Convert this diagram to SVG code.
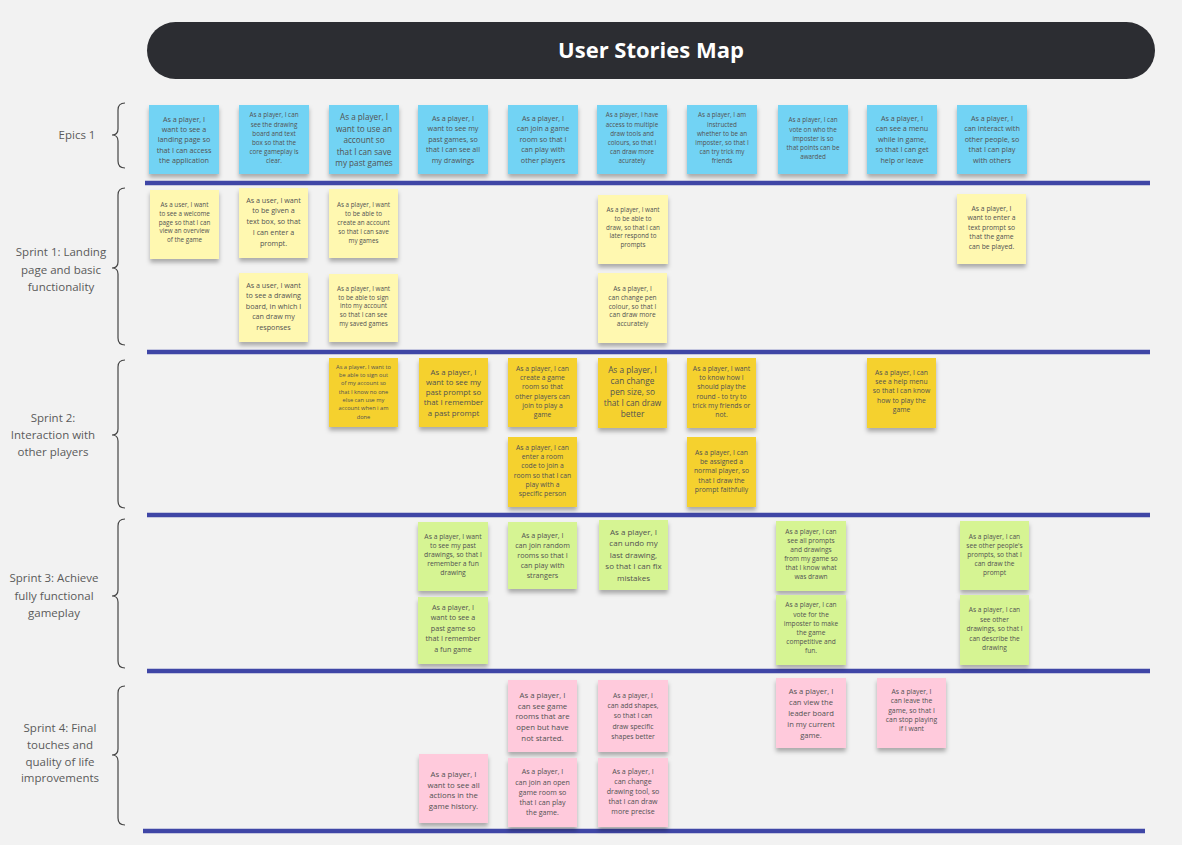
<svg xmlns="http://www.w3.org/2000/svg" width="1182" height="845" viewBox="0 0 1182 845">
<style>
.bg{fill:#f2f2f2}
.note{filter:url(#sh)}
.blue{fill:#72d3f4}
.ly{fill:#fff8b0}
.yl{fill:#f5d12e}
.gr{fill:#d6f493}
.pk{fill:#ffcadc}
.t{font-family:"Open Sans","Liberation Sans",sans-serif;fill:#525252;text-anchor:middle}
.lbl{font-family:"Open Sans","Liberation Sans",sans-serif;fill:#5a5a5a;font-size:11.5px;text-anchor:middle}
.sep{stroke:#3f46a6;stroke-width:4.5}
.brace{fill:none;stroke:#444;stroke-width:1.2}
</style>
<defs>
<filter id="sh" x="-20%" y="-20%" width="140%" height="150%">
<feDropShadow dx="0" dy="3.5" stdDeviation="2" flood-color="#000" flood-opacity="0.3"/>
</filter>
</defs>
<rect class="bg" x="0" y="0" width="1182" height="845"/>

<g id="title">
<rect x="147" y="22" width="1008" height="57" rx="28.5" fill="#2c2d32"/>
<text x="651" y="58" font-family="'Open Sans','Liberation Sans',sans-serif" font-weight="bold" font-size="22" fill="#fff" text-anchor="middle">User Stories Map</text>
</g>

<g id="connectors">
<line class="sep" x1="145" y1="183" x2="1150" y2="183"/>
<line class="sep" x1="147" y1="352" x2="1150" y2="352"/>
<line class="sep" x1="147" y1="515" x2="1150" y2="515"/>
<line class="sep" x1="147" y1="671" x2="1150" y2="671"/>
<line class="sep" x1="143" y1="831" x2="1145" y2="831"/>
<path class="brace" d="M125,103 Q118,103 118,110 L118,129 Q118,135 112,135 Q118,135 118,141 L118,161 Q118,168 125,168"/>
<path class="brace" d="M125,188 Q118,188 118,195 L118,262 Q118,268 112,268 Q118,268 118,274 L118,338 Q118,345 125,345"/>
<path class="brace" d="M125,360 Q118,360 118,367 L118,429 Q118,435 112,435 Q118,435 118,441 L118,501 Q118,508 125,508"/>
<path class="brace" d="M125,519 Q118,519 118,526 L118,590 Q118,596 112,596 Q118,596 118,602 L118,661 Q118,668 125,668"/>
<path class="brace" d="M125,686 Q118,686 118,693 L118,749 Q118,755 112,755 Q118,755 118,761 L118,818 Q118,825 125,825"/>
</g>

<g id="labels">
<text class="lbl" x="77" y="139">Epics 1</text>
<text class="lbl" x="61" y="256">Sprint 1: Landing<tspan x="61" dy="17.5">page and basic</tspan><tspan x="61" dy="17.5">functionality</tspan></text>
<text class="lbl" x="53" y="422">Sprint 2:<tspan x="53" dy="17">Interaction with</tspan><tspan x="53" dy="17">other players</tspan></text>
<text class="lbl" x="54" y="582">Sprint 3: Achieve<tspan x="54" dy="17.5">fully functional</tspan><tspan x="54" dy="17.5">gameplay</tspan></text>
<text class="lbl" x="60" y="732">Sprint 4: Final<tspan x="60" dy="16.8">touches and</tspan><tspan x="60" dy="16.8">quality of life</tspan><tspan x="60" dy="16.8">improvements</tspan></text>
</g>

<!-- Epics -->
<g id="e1" transform="translate(149,105)"><rect class="note blue" width="70" height="69"/><text class="t" font-size="7.2" x="35" y="16.6">As a player, I<tspan x="35" dy="10.3">want to see a</tspan><tspan x="35" dy="10.3">landing page so</tspan><tspan x="35" dy="10.3">that I can access</tspan><tspan x="35" dy="10.3">the application</tspan></text></g>
<g id="e2" transform="translate(239,105)"><rect class="note blue" width="70" height="69"/><text class="t" font-size="6.3" x="35" y="12.3">As a player, I can<tspan x="35" dy="9.2">see the drawing</tspan><tspan x="35" dy="9.2">board and text</tspan><tspan x="35" dy="9.2">box so that the</tspan><tspan x="35" dy="9.2">core gameplay is</tspan><tspan x="35" dy="9.2">clear.</tspan></text></g>
<g id="e3" transform="translate(329,105)"><rect class="note blue" width="70" height="69"/><text class="t" font-size="8.2" x="35" y="15.3">As a player, I<tspan x="35" dy="11.5">want to use an</tspan><tspan x="35" dy="11.5">account so</tspan><tspan x="35" dy="11.5">that I can save</tspan><tspan x="35" dy="11.5">my past games</tspan></text></g>
<g id="e4" transform="translate(418,105)"><rect class="note blue" width="70" height="69"/><text class="t" font-size="7.2" x="35" y="16">As a player, I<tspan x="35" dy="10.4">want to see my</tspan><tspan x="35" dy="10.4">past games, so</tspan><tspan x="35" dy="10.4">that I can see all</tspan><tspan x="35" dy="10.4">my drawings</tspan></text></g>
<g id="e5" transform="translate(508,105)"><rect class="note blue" width="70" height="69"/><text class="t" font-size="7.2" x="35" y="16">As a player, I<tspan x="35" dy="10.4">can join a game</tspan><tspan x="35" dy="10.4">room so that I</tspan><tspan x="35" dy="10.4">can play with</tspan><tspan x="35" dy="10.4">other players</tspan></text></g>
<g id="e6" transform="translate(597,105)"><rect class="note blue" width="70" height="69"/><text class="t" font-size="6.3" x="35" y="12.3">As a player, I have<tspan x="35" dy="9.2">access to multiple</tspan><tspan x="35" dy="9.2">draw tools and</tspan><tspan x="35" dy="9.2">colours, so that I</tspan><tspan x="35" dy="9.2">can draw more</tspan><tspan x="35" dy="9.2">acurately</tspan></text></g>
<g id="e7" transform="translate(687,105)"><rect class="note blue" width="70" height="69"/><text class="t" font-size="6.3" x="35" y="12.3">As a player, I am<tspan x="35" dy="9.2">instructed</tspan><tspan x="35" dy="9.2">whether to be an</tspan><tspan x="35" dy="9.2">imposter, so that I</tspan><tspan x="35" dy="9.2">can try trick my</tspan><tspan x="35" dy="9.2">friends</tspan></text></g>
<g id="e8" transform="translate(778,105)"><rect class="note blue" width="70" height="69"/><text class="t" font-size="6.3" x="35" y="17.3">As a player, I can<tspan x="35" dy="9.2">vote on  who the</tspan><tspan x="35" dy="9.2">imposter is so</tspan><tspan x="35" dy="9.2">that points can be</tspan><tspan x="35" dy="9.2">awarded</tspan></text></g>
<g id="e9" transform="translate(867,105)"><rect class="note blue" width="70" height="69"/><text class="t" font-size="7.2" x="35" y="16">As a player, I<tspan x="35" dy="10.4">can see a menu</tspan><tspan x="35" dy="10.4">while in game,</tspan><tspan x="35" dy="10.4">so that I can get</tspan><tspan x="35" dy="10.4">help or leave</tspan></text></g>
<g id="e10" transform="translate(957,105)"><rect class="note blue" width="70" height="69"/><text class="t" font-size="7.2" x="35" y="16">As a player, I<tspan x="35" dy="10.4">can interact with</tspan><tspan x="35" dy="10.4">other people, so</tspan><tspan x="35" dy="10.4">that I can play</tspan><tspan x="35" dy="10.4">with others</tspan></text></g>

<!-- Sprint 1 -->
<g id="s1a" transform="translate(150,190)"><rect class="note ly" width="69" height="69"/><text class="t" font-size="6.3" x="34.5" y="17.3">As a user, I want<tspan x="34.5" dy="8.7">to see a welcome</tspan><tspan x="34.5" dy="8.7">page so that I can</tspan><tspan x="34.5" dy="8.7">view an overview</tspan><tspan x="34.5" dy="8.7">of the game</tspan></text></g>
<g id="s1b" transform="translate(239,188)"><rect class="note ly" width="69" height="70"/><text class="t" font-size="7.2" x="34.5" y="14.6">As a user, I want<tspan x="34.5" dy="10.8">to be given a</tspan><tspan x="34.5" dy="10.8">text box, so that</tspan><tspan x="34.5" dy="10.8">I can enter a</tspan><tspan x="34.5" dy="10.8">prompt.</tspan></text></g>
<g id="s1c" transform="translate(329,189)"><rect class="note ly" width="69" height="69"/><text class="t" font-size="6.3" x="34.5" y="18.3">As a player, I want<tspan x="34.5" dy="8.9">to be able to</tspan><tspan x="34.5" dy="8.9">create an account</tspan><tspan x="34.5" dy="8.9">so that I can save</tspan><tspan x="34.5" dy="8.9">my games</tspan></text></g>
<g id="s1d" transform="translate(239,273)"><rect class="note ly" width="69" height="69"/><text class="t" font-size="7.2" x="34.5" y="14.6">As a user, I want<tspan x="34.5" dy="10.5">to see a drawing</tspan><tspan x="34.5" dy="10.5">board, in which I</tspan><tspan x="34.5" dy="10.5">can draw my</tspan><tspan x="34.5" dy="10.5">responses</tspan></text></g>
<g id="s1e" transform="translate(329,274)"><rect class="note ly" width="69" height="68"/><text class="t" font-size="6.3" x="34.5" y="16.6">As a player, I want<tspan x="34.5" dy="8.9">to be able to sign</tspan><tspan x="34.5" dy="8.9">into my account</tspan><tspan x="34.5" dy="8.9">so that I can see</tspan><tspan x="34.5" dy="8.9">my saved games</tspan></text></g>
<g id="s1f" transform="translate(598,195)"><rect class="note ly" width="70" height="69"/><text class="t" font-size="6.3" x="35" y="17.3">As a player, I want<tspan x="35" dy="8.7">to be able to</tspan><tspan x="35" dy="8.7">draw, so that I can</tspan><tspan x="35" dy="8.7">later respond to</tspan><tspan x="35" dy="8.7">prompts</tspan></text></g>
<g id="s1g" transform="translate(598,273)"><rect class="note ly" width="69" height="70"/><text class="t" font-size="6.6" x="34.5" y="17.7">As a player, I<tspan x="34.5" dy="8.9">can change pen</tspan><tspan x="34.5" dy="8.9">colour, so that I</tspan><tspan x="34.5" dy="8.9">can draw more</tspan><tspan x="34.5" dy="8.9">accurately</tspan></text></g>
<g id="s1h" transform="translate(957,194)"><rect class="note ly" width="69" height="70"/><text class="t" font-size="6.8" x="34.5" y="16.8">As a player, I<tspan x="34.5" dy="9.5">want to enter a</tspan><tspan x="34.5" dy="9.5">text prompt so</tspan><tspan x="34.5" dy="9.5">that the game</tspan><tspan x="34.5" dy="9.5">can be played.</tspan></text></g>

<!-- Sprint 2 -->
<g id="s2a" transform="translate(329,358)"><rect class="note yl" width="69" height="69"/><text class="t" font-size="5.7" x="34.5" y="10.7">As a player, I want to<tspan x="34.5" dy="8.3">be able to sign out</tspan><tspan x="34.5" dy="8.3">of my account so</tspan><tspan x="34.5" dy="8.3">that I know no one</tspan><tspan x="34.5" dy="8.3">else can use my</tspan><tspan x="34.5" dy="8.3">account when i am</tspan><tspan x="34.5" dy="8.3">done</tspan></text></g>
<g id="s2b" transform="translate(419,358)"><rect class="note yl" width="69" height="69"/><text class="t" font-size="7.8" x="34.5" y="16.5">As a player, I<tspan x="34.5" dy="10.3">want to see my</tspan><tspan x="34.5" dy="10.3">past prompt so</tspan><tspan x="34.5" dy="10.3">that I remember</tspan><tspan x="34.5" dy="10.3">a past prompt</tspan></text></g>
<g id="s2c" transform="translate(508,358)"><rect class="note yl" width="69" height="69"/><text class="t" font-size="6.8" x="34.5" y="12.8">As a player, I can<tspan x="34.5" dy="9.3">create a game</tspan><tspan x="34.5" dy="9.3">room so that</tspan><tspan x="34.5" dy="9.3">other players can</tspan><tspan x="34.5" dy="9.3">join to play a</tspan><tspan x="34.5" dy="9.3">game</tspan></text></g>
<g id="s2d" transform="translate(508,437)"><rect class="note yl" width="69" height="70"/><text class="t" font-size="6.8" x="34.5" y="13.2">As a player, I can<tspan x="34.5" dy="9.1">enter a room</tspan><tspan x="34.5" dy="9.1">code to join a</tspan><tspan x="34.5" dy="9.1">room so that I can</tspan><tspan x="34.5" dy="9.1">play with a</tspan><tspan x="34.5" dy="9.1">specific person</tspan></text></g>
<g id="s2e" transform="translate(598,358)"><rect class="note yl" width="69" height="70"/><text class="t" font-size="8.3" x="34.5" y="15">As a player, I<tspan x="34.5" dy="11">can change</tspan><tspan x="34.5" dy="11">pen size, so</tspan><tspan x="34.5" dy="11">that I can draw</tspan><tspan x="34.5" dy="11">better</tspan></text></g>
<g id="s2f" transform="translate(687,358)"><rect class="note yl" width="69" height="70"/><text class="t" font-size="6.8" x="34.5" y="12.8">As a player, I want<tspan x="34.5" dy="9.3">to know how I</tspan><tspan x="34.5" dy="9.3">should play the</tspan><tspan x="34.5" dy="9.3">round - to try to</tspan><tspan x="34.5" dy="9.3">trick my friends or</tspan><tspan x="34.5" dy="9.3">not.</tspan></text></g>
<g id="s2g" transform="translate(687,437)"><rect class="note yl" width="69" height="70"/><text class="t" font-size="6.8" x="34.5" y="18.2">As a player, I can<tspan x="34.5" dy="9.1">be assigned a</tspan><tspan x="34.5" dy="9.1">normal player, so</tspan><tspan x="34.5" dy="9.1">that I draw the</tspan><tspan x="34.5" dy="9.1">prompt faithfully</tspan></text></g>
<g id="s2h" transform="translate(867,358)"><rect class="note yl" width="69" height="70"/><text class="t" font-size="6.8" x="34.5" y="16.8">As a player, I can<tspan x="34.5" dy="9.3">see a help menu</tspan><tspan x="34.5" dy="9.3">so that I can know</tspan><tspan x="34.5" dy="9.3">how to play the</tspan><tspan x="34.5" dy="9.3">game</tspan></text></g>

<!-- Sprint 3 -->
<g id="s3a" transform="translate(418,522)"><rect class="note gr" width="70" height="69"/><text class="t" font-size="6.8" x="35" y="17.2">As a player, I want<tspan x="35" dy="9">to see my past</tspan><tspan x="35" dy="9">drawings, so that I</tspan><tspan x="35" dy="9">remember a fun</tspan><tspan x="35" dy="9">drawing</tspan></text></g>
<g id="s3b" transform="translate(418,597)"><rect class="note gr" width="70" height="67"/><text class="t" font-size="7.2" x="35" y="12.6">As a player, I<tspan x="35" dy="10.5">want to see a</tspan><tspan x="35" dy="10.5">past game so</tspan><tspan x="35" dy="10.5">that I remember</tspan><tspan x="35" dy="10.5">a fun game</tspan></text></g>
<g id="s3c" transform="translate(508,522)"><rect class="note gr" width="69" height="67"/><text class="t" font-size="7.2" x="34.5" y="15.6">As a player, I<tspan x="34.5" dy="10">can join random</tspan><tspan x="34.5" dy="10">rooms so that I</tspan><tspan x="34.5" dy="10">can play with</tspan><tspan x="34.5" dy="10">strangers</tspan></text></g>
<g id="s3d" transform="translate(599,520)"><rect class="note gr" width="69" height="70"/><text class="t" font-size="8" x="34.5" y="14.6">As a player, I<tspan x="34.5" dy="11.5">can undo my</tspan><tspan x="34.5" dy="11.5">last drawing,</tspan><tspan x="34.5" dy="11.5">so that I can fix</tspan><tspan x="34.5" dy="11.5">mistakes</tspan></text></g>
<g id="s3e" transform="translate(776,521)"><rect class="note gr" width="70" height="70"/><text class="t" font-size="6.6" x="35" y="13.1">As a player, I can<tspan x="35" dy="9">see all prompts</tspan><tspan x="35" dy="9">and drawings</tspan><tspan x="35" dy="9">from my game so</tspan><tspan x="35" dy="9">that I know what</tspan><tspan x="35" dy="9">was drawn</tspan></text></g>
<g id="s3f" transform="translate(776,595)"><rect class="note gr" width="70" height="70"/><text class="t" font-size="6.6" x="35" y="12.4">As a player, I can<tspan x="35" dy="9.1">vote for the</tspan><tspan x="35" dy="9.1">imposter to make</tspan><tspan x="35" dy="9.1">the game</tspan><tspan x="35" dy="9.1">competitive and</tspan><tspan x="35" dy="9.1">fun.</tspan></text></g>
<g id="s3g" transform="translate(960,521)"><rect class="note gr" width="69" height="69"/><text class="t" font-size="6.6" x="34.5" y="18.1">As a player, I can<tspan x="34.5" dy="8.9">see other people's</tspan><tspan x="34.5" dy="8.9">prompts, so that I</tspan><tspan x="34.5" dy="8.9">can draw the</tspan><tspan x="34.5" dy="8.9">prompt</tspan></text></g>
<g id="s3h" transform="translate(960,595)"><rect class="note gr" width="69" height="70"/><text class="t" font-size="6.6" x="34.5" y="17.4">As a player, I can<tspan x="34.5" dy="9.4">see other</tspan><tspan x="34.5" dy="9.4">drawings, so that I</tspan><tspan x="34.5" dy="9.4">can describe the</tspan><tspan x="34.5" dy="9.4">drawing</tspan></text></g>

<!-- Sprint 4 -->
<g id="s4a" transform="translate(508,680)"><rect class="note pk" width="69" height="72"/><text class="t" font-size="7.8" x="34.5" y="17.8">As a player, I<tspan x="34.5" dy="10.8">can see game</tspan><tspan x="34.5" dy="10.8">rooms that are</tspan><tspan x="34.5" dy="10.8">open but have</tspan><tspan x="34.5" dy="10.8">not started.</tspan></text></g>
<g id="s4b" transform="translate(598,680)"><rect class="note pk" width="70" height="72"/><text class="t" font-size="6.8" x="35" y="17.5">As a player, I<tspan x="35" dy="10.4">can add shapes,</tspan><tspan x="35" dy="10.4">so that I can</tspan><tspan x="35" dy="10.4">draw specific</tspan><tspan x="35" dy="10.4">shapes better</tspan></text></g>
<g id="s4c" transform="translate(419,754)"><rect class="note pk" width="69" height="69"/><text class="t" font-size="7.8" x="34.5" y="22.8">As a player, I<tspan x="34.5" dy="10.7">want to see all</tspan><tspan x="34.5" dy="10.7">actions in the</tspan><tspan x="34.5" dy="10.7">game history.</tspan></text></g>
<g id="s4d" transform="translate(508,758)"><rect class="note pk" width="69" height="69"/><text class="t" font-size="7.1" x="34.5" y="16.3">As a player, I<tspan x="34.5" dy="10.2">can join an open</tspan><tspan x="34.5" dy="10.2">game room so</tspan><tspan x="34.5" dy="10.2">that I can play</tspan><tspan x="34.5" dy="10.2">the game.</tspan></text></g>
<g id="s4e" transform="translate(598,758)"><rect class="note pk" width="70" height="69"/><text class="t" font-size="7.1" x="35" y="16.3">As a player, I<tspan x="35" dy="10">can change</tspan><tspan x="35" dy="10">drawing tool, so</tspan><tspan x="35" dy="10">that I can draw</tspan><tspan x="35" dy="10">more precise</tspan></text></g>
<g id="s4f" transform="translate(776,678)"><rect class="note pk" width="70" height="70"/><text class="t" font-size="7.6" x="35" y="16.4">As a player, I<tspan x="35" dy="10.8">can view the</tspan><tspan x="35" dy="10.8">leader board</tspan><tspan x="35" dy="10.8">in my current</tspan><tspan x="35" dy="10.8">game.</tspan></text></g>
<g id="s4g" transform="translate(877,678)"><rect class="note pk" width="69" height="70"/><text class="t" font-size="6.8" x="34.5" y="16.2">As a player, I<tspan x="34.5" dy="9.2">can leave the</tspan><tspan x="34.5" dy="9.2">game, so that I</tspan><tspan x="34.5" dy="9.2">can stop playing</tspan><tspan x="34.5" dy="9.2">if I want</tspan></text></g>
</svg>
